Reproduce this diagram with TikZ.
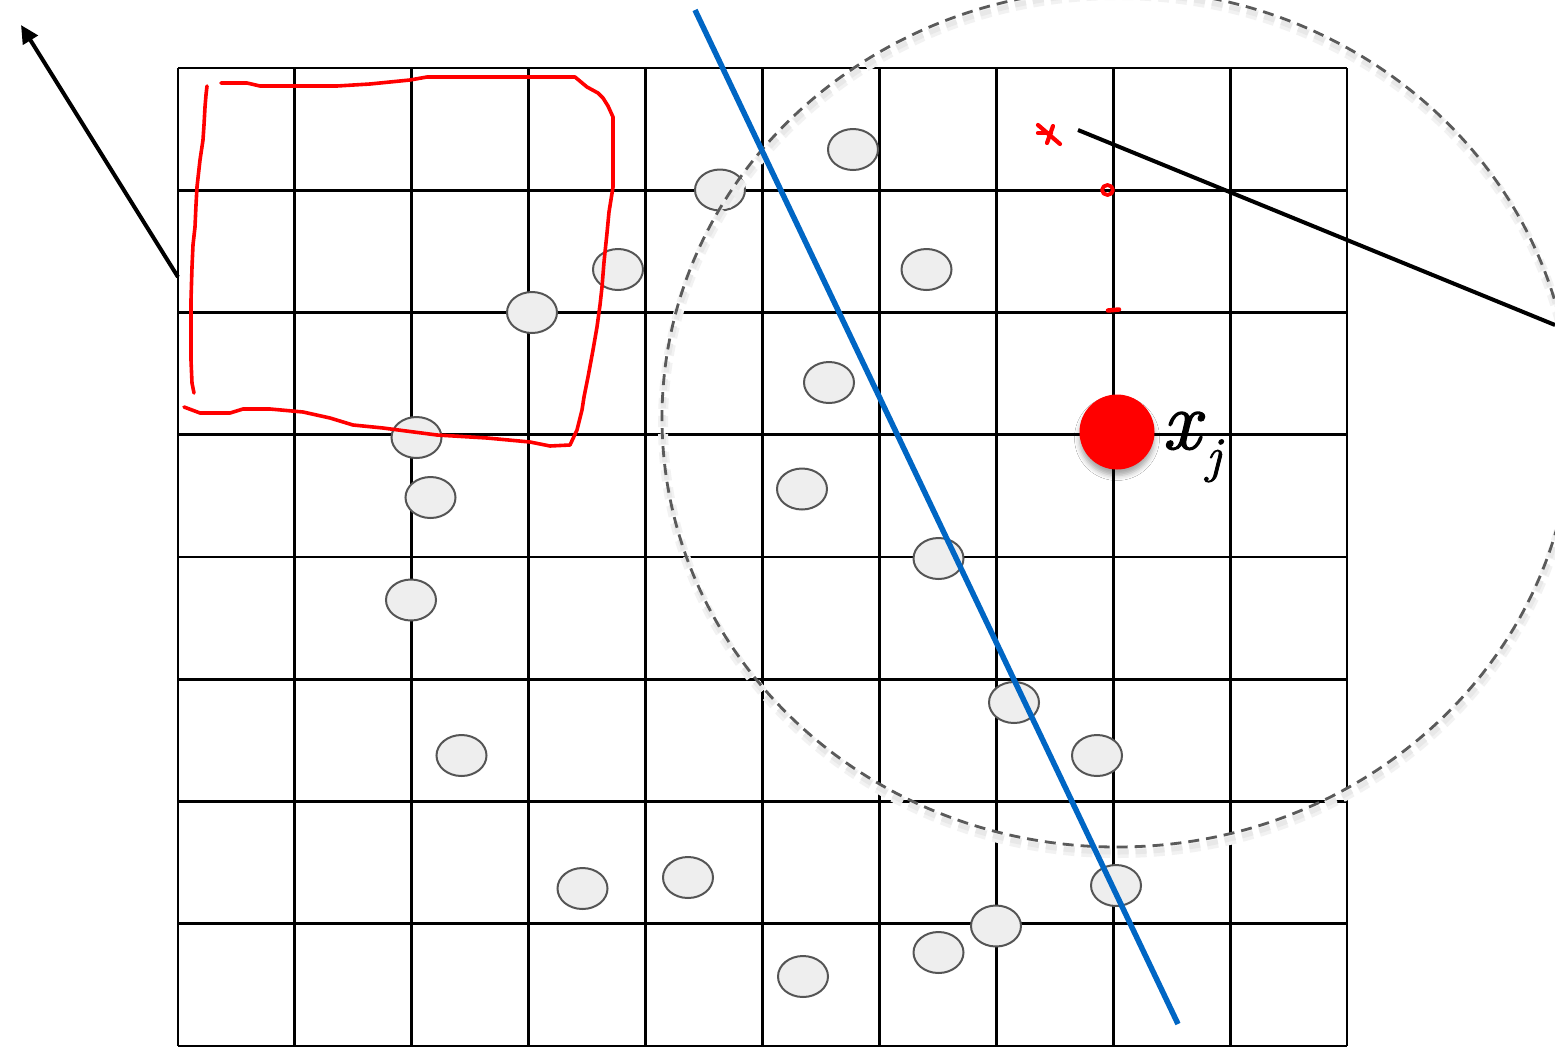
\documentclass[tikz,border=0pt]{standalone}
\usepackage{fontspec}
\newfontfamily\labelfont{Latin Modern Roman}[ItalicFeatures={FakeBold=1.6}]
\usetikzlibrary{arrows.meta,shapes.geometric,shadows.blur}
\definecolor{blueline}{RGB}{0,102,196}
\definecolor{ptfill}{RGB}{238,238,238}
\definecolor{ptdraw}{RGB}{85,85,85}
\definecolor{dashgray}{RGB}{90,90,90}
\begin{document}
\begin{tikzpicture}[x=1pt,y=-1pt,
  gridline/.style={line width=2.9pt,black},
  ptnode/.style={ellipse,draw=ptdraw,fill=ptfill,line width=2pt,minimum width=50pt,minimum height=41pt,inner sep=0pt},
  redpen/.style={red,line width=3.6pt,line cap=round,line join=round},
  blackline/.style={black,line width=4pt},
  radius/.style={dashgray,line width=2.8pt,dash pattern=on 11pt off 7pt}]
\useasboundingbox (0,0) rectangle (1555,1047);
\fill[white] (0,0) rectangle (1555,1047);
% grid
\foreach \i in {0,...,10}
  \draw[gridline] ({178+116.9*\i},68) -- ({178+116.9*\i},1046);
\foreach \j in {0,...,8}
  \draw[gridline] (178,{68+122.25*\j}) -- (1347,{68+122.25*\j});
% points
\foreach \n/\px/\py in {p1/853/149.5, p2/720/190, p3/618/269.5, p4/926.5/269.5, p5/532/312.5,
  p6/829/382.5, p7/416.5/437.5, p8/430.5/497.5, p9/802/489, p10/938.5/558.5, p11/411/600,
  p12/1014/702.5, p13/1097/755.5, p14/461.5/755.5, p15/582.5/888.5, p16/688/877.5,
  p17/1116/885.5, p18/996/926, p19/938.5/952.5, p20/803/976.5}
  \node[ptnode] (\n) at (\px,\py) {};
% dashed neighbourhood with soft shadow
\draw[black!5,line width=10pt,dash pattern=on 11pt off 7pt] (1118,424) ellipse [x radius=455, y radius=429];
\draw[black!9,line width=5pt,dash pattern=on 11pt off 7pt] (1118,423) ellipse [x radius=455, y radius=429];
\draw[radius] (1117,418) ellipse [x radius=455, y radius=429];
% red hand-drawn box
\draw[redpen] (207,86) -- (206,95) -- (205,107) -- (204,125) -- (203,140) -- (200,160) -- (197,187)
  -- (196,205) -- (195,227) -- (193,245) -- (192,267) -- (191,300)
  -- (191,327) -- (191,360) -- (192,383) -- (194,393);
\draw[redpen] (221,83) -- (247,83) -- (260,86) -- (337,86) -- (370,84) -- (410,80) -- (427,77)
  -- (575,77) -- (587,87) -- (598,93) -- (603,98) -- (608,106) -- (613,117) -- (613,187) -- (609,212)
  -- (607,233) -- (604,262) -- (602,287) -- (600,305)
  -- (597,327) -- (593,350) -- (588,377) -- (584,397) -- (582,410) -- (577,430) -- (570,445) -- (550,446) -- (530,442) -- (487,438)
  -- (437,435) -- (383,428) -- (353,425) -- (330,418) -- (303,412) -- (270,409) -- (243,409) -- (230,413)
  -- (200,413) -- (184,407);
% red small marks
\draw[redpen,line width=4.2pt] (1038,125) -- (1060,144);
\draw[redpen,line width=4.2pt] (1053,126) -- (1047,143);
\draw[redpen,line width=4.2pt] (1038,133) -- (1051,133);
\draw[redpen,line width=3.8pt] (1107.5,190) ellipse [x radius=5.5, y radius=5];
\draw[redpen,line width=4.5pt] (1108,310.5) -- (1119,309.5);
% blue separating line
\coordinate (b1) at (695,10);
\coordinate (b2) at (1178,1024);
\draw[blueline,line width=5.5pt] (b1) -- (b2);
% black lines
\coordinate (l1) at (1078,130);
\coordinate (l2) at (1555,325);
\draw[blackline] (l1) -- (l2);
\coordinate (a1) at (178,277);
\coordinate (a2) at (21,25);
\draw[blackline,-{Triangle[length=18pt,width=17pt]}] (a1) -- (a2);
% query point
\node[circle,fill=red,minimum size=75pt,inner sep=0pt,
  blur shadow={shadow xshift=0pt,shadow yshift=-6pt,shadow blur radius=5pt,shadow opacity=35}] (xj) at (1117,432) {};
\node[font=\labelfont\fontsize{84}{84}\selectfont\itshape,anchor=base west,inner sep=0pt] (lx) at (1162,449) {x};
\node[font=\labelfont\fontsize{50}{50}\selectfont\itshape,anchor=base west,inner sep=0pt] (lj) at (1206,472) {j};
\end{tikzpicture}
\end{document}
